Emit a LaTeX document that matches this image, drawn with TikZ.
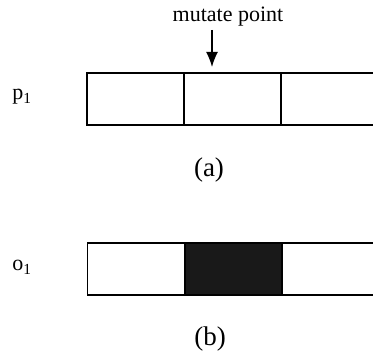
\documentclass[tikz,border=0pt]{standalone}
\usepackage{fontspec}
\setmainfont{Liberation Serif}
\usetikzlibrary{arrows.meta}
\begin{document}
\begin{tikzpicture}[
  x=1pt, y=-1pt,
  font=\fontsize{22}{26}\selectfont,
  seg/.style={draw, line width=1.4pt, minimum width=97pt, minimum height=52pt, inner sep=0pt},
  hit/.style={seg, fill=black!90},
  caption/.style={font=\fontsize{27}{30}\selectfont},
  arr/.style={-{Latex[length=15pt,width=12pt]}, line width=1.4pt}
]
\useasboundingbox (0,0) rectangle (373,355);
\clip (0,0) rectangle (373,355);
% parent
\node[seg] (p1a) at (135.5,99) {};
\node[seg] (p1b) at (232.5,99) {};
\node[seg] (p1c) at (329.5,99) {};
\node[anchor=base] (p1) at (22,100) {p\textsubscript{1}};
\node (mut) at (228,17) {mutate point};
\coordinate (mtop) at (212,30);
\coordinate (mtip) at (212,67);
\draw[arr] (mtop) -- (mtip);
\node[caption] (capa) at (209,170) {(a)};
% offspring
\node[seg] (o1a) at (136,269) {};
\node[hit] (o1b) at (233.5,269) {};
\node[seg] (o1c) at (330.5,269) {};
\node[anchor=base] (o1) at (22,271) {o\textsubscript{1}};
\node[caption] (capb) at (210,339) {(b)};
\end{tikzpicture}
\end{document}
